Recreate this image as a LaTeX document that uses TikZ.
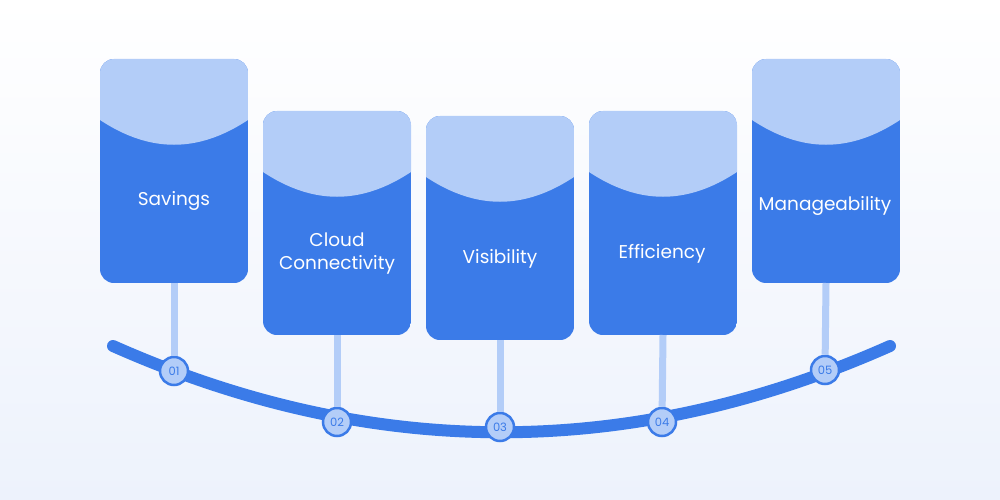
\documentclass[tikz,border=0pt]{standalone}
\usepackage{fontspec}
\setmainfont{Poppins}
\definecolor{dark}{HTML}{3B7BE8}
\definecolor{light}{HTML}{B3CDF8}
\definecolor{bgtop}{HTML}{FFFFFF}
\definecolor{bgbot}{HTML}{EDF2FC}
\begin{document}
\begin{tikzpicture}[x=1pt,y=-1pt,
  lbl/.style={text=white,font=\fontsize{18.5}{23}\selectfont,align=center},
  num/.style={circle,draw=dark,line width=2.5pt,fill=light,minimum size=28pt,inner sep=0pt,text=dark,font=\fontsize{11.5}{13}\selectfont},
  stem/.style={light,line width=7pt}]
\shade[top color=bgtop,bottom color=bgbot] (0,0) rectangle (1000,500);
\useasboundingbox (0,0) rectangle (1000,500);
\newcommand{\card}[3]{% x0, y0, name
  \begin{scope}
    \clip[rounded corners=14pt] (#1,#2) rectangle ++(148,224);
    \fill[dark] (#1,#2) rectangle ++(148,224);
    \fill[light] (#1,#2) -- (#1,#2+61) .. controls (#1+50,#2+94) and (#1+98,#2+94) .. (#1+148,#2+61) -- (#1+148,#2) -- cycle;
  \end{scope}
  \coordinate (#3) at (#1+74,#2+224);}
\draw[dark,line width=12pt,line cap=round] (113,346) .. controls (372,461) and (631,461) .. (890,346);
\card{100}{59}{c1}
\card{263}{111}{c2}
\card{426}{116}{c3}
\card{589}{111}{c4}
\card{752}{59}{c5}
\node[num] (n1) at (174,371) {01};
\node[num] (n2) at (337,422) {02};
\node[num] (n3) at (500,427) {03};
\node[num] (n4) at (662,422) {04};
\node[num] (n5) at (825,370) {05};
\foreach \i in {1,...,5} \draw[stem] (c\i) -- (n\i);
\node[lbl] (t1) at (174,201) {Savings};
\node[lbl] (t2) at (337,254) {Cloud\\Connectivity};
\node[lbl] (t3) at (500,259) {Visibility};
\node[lbl] (t4) at (662,254) {Efficiency};
\node[lbl] (t5) at (825,206) {Manageability};
\end{tikzpicture}
\end{document}
